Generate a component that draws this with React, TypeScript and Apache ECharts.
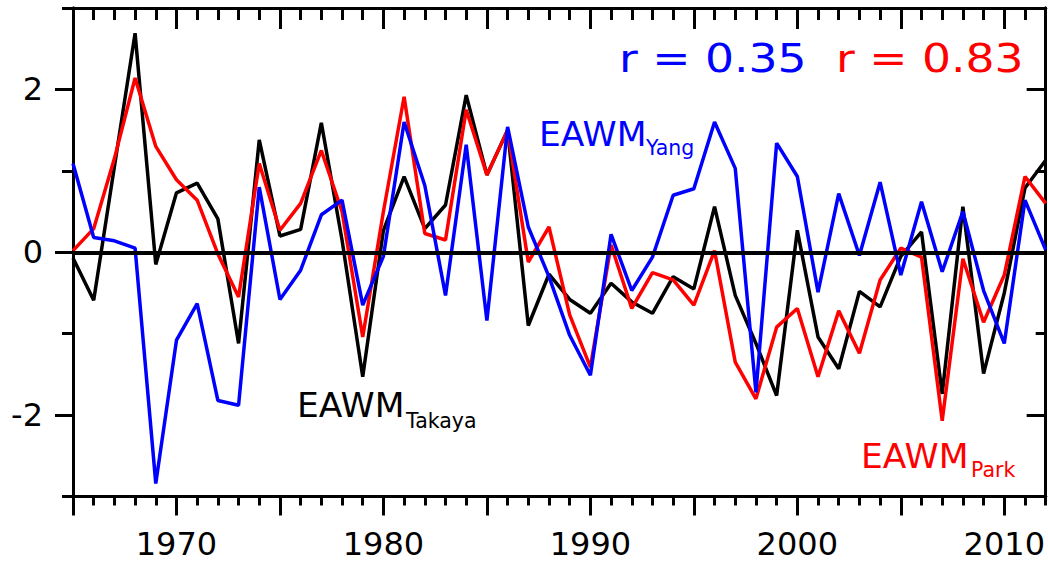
import React, { useEffect, useRef } from "react";
import * as echarts from "echarts";

const years = [
  1965, 1966, 1967, 1968, 1969, 1970, 1971, 1972, 1973, 1974, 1975, 1976,
  1977, 1978, 1979, 1980, 1981, 1982, 1983, 1984, 1985, 1986, 1987, 1988,
  1989, 1990, 1991, 1992, 1993, 1994, 1995, 1996, 1997, 1998, 1999, 2000,
  2001, 2002, 2003, 2004, 2005, 2006, 2007, 2008, 2009, 2010, 2011, 2012,
];

const takaya = [
  -0.07, -0.59, 1.05, 2.69, -0.15, 0.73, 0.85, 0.41, -1.12, 1.38, 0.2, 0.28,
  1.59, 0.15, -1.53, 0.27, 0.93, 0.29, 0.58, 1.93, 0.95, 1.5, -0.9, -0.27,
  -0.58, -0.75, -0.38, -0.61, -0.75, -0.3, -0.45, 0.56, -0.53, -1.12, -1.76, 0.27,
  -1.04, -1.43, -0.48, -0.67, -0.05, 0.25, -1.74, 0.56, -1.49, -0.5, 0.79, 1.13,
];

const park = [
  0.02, 0.29, 1.15, 2.14, 1.3, 0.89, 0.64, -0.02, -0.55, 1.09, 0.27, 0.6,
  1.25, 0.5, -1.04, 0.5, 1.91, 0.23, 0.15, 1.75, 0.95, 1.5, -0.12, 0.31,
  -0.77, -1.41, 0.09, -0.69, -0.25, -0.34, -0.65, 0.02, -1.35, -1.8, -0.92, -0.69,
  -1.53, -0.72, -1.24, -0.34, 0.05, -0.06, -2.07, -0.08, -0.86, -0.28, 0.93, 0.6,
];

const yang = [
  1.09, 0.18, 0.14, 0.05, -2.84, -1.08, -0.63, -1.82, -1.88, 0.8, -0.58, -0.22,
  0.46, 0.64, -0.65, -0.05, 1.6, 0.82, -0.53, 1.32, -0.84, 1.54, 0.31, -0.3,
  -1.02, -1.51, 0.22, -0.47, -0.06, 0.7, 0.78, 1.6, 1.03, -1.72, 1.34, 0.93,
  -0.49, 0.72, -0.04, 0.86, -0.28, 0.62, -0.24, 0.5, -0.47, -1.12, 0.64, 0.03,
];

const majorYearTicks = [1965, 1970, 1975, 1980, 1985, 1990, 1995, 2000, 2005, 2010];
const yearLabels = [1970, 1980, 1990, 2000, 2010];
const yMajorTicks = [-2, 0, 2];
const yLabels = [-2, 0, 2];

const FONT = '"DejaVu Sans", Verdana, sans-serif';
const BLACK = "#000000";
const BLUE = "#0000ff";
const RED = "#ff0000";

export default function App() {
  const ref = useRef<HTMLDivElement>(null);

  useEffect(() => {
    if (!ref.current) return;
    const chart = echarts.init(ref.current, undefined, { renderer: "svg" });

    const line = { show: true, onZero: false, lineStyle: { color: BLACK, width: 3 } };
    const tickStyle = { color: BLACK, width: 3 };

    const xBase = {
      type: "value" as const,
      min: 1965,
      max: 2012,
      interval: 1,
      splitLine: { show: false },
      axisLine: line,
    };
    const yBase = {
      type: "value" as const,
      min: -3,
      max: 3,
      interval: 1,
      splitLine: { show: false },
      axisLine: line,
    };

    const mk = (vals: number[]) => years.map((y, i) => [y, vals[i]]);

    const label = (x: number, y: number, text: string, fill: string, size: number, sx = 1) => ({
      type: "text",
      x,
      y,
      scaleX: sx,
      style: { text, fill, fontSize: size, fontFamily: FONT, align: "left", verticalAlign: "middle" },
    });

    chart.setOption({
      animation: false,
      grid: { left: 73, right: 2, top: 8, bottom: 66.5, containLabel: false },
      xAxis: [
        {
          ...xBase,
          position: "bottom",
          axisTick: { show: true, inside: false, length: 9, lineStyle: tickStyle },
          axisLabel: { show: false },
        },
        {
          ...xBase,
          position: "bottom",
          axisTick: { show: true, inside: false, length: 19, customValues: majorYearTicks, lineStyle: tickStyle },
          axisLabel: {
            show: true,
            customValues: yearLabels,
            formatter: (v: number) => String(v),
            fontSize: 32,
            fontFamily: FONT,
            color: BLACK,
            margin: 31,
          },
        },
        {
          ...xBase,
          position: "top",
          axisTick: { show: true, inside: true, length: 12, lineStyle: tickStyle },
          axisLabel: { show: false },
        },
        {
          ...xBase,
          position: "top",
          axisTick: { show: true, inside: true, length: 21, customValues: majorYearTicks, lineStyle: tickStyle },
          axisLabel: { show: false },
        },
      ],
      yAxis: [
        {
          ...yBase,
          position: "left",
          axisTick: { show: true, inside: false, length: 11, lineStyle: tickStyle },
          axisLabel: { show: false },
        },
        {
          ...yBase,
          position: "left",
          axisTick: { show: true, inside: false, length: 18, customValues: yMajorTicks, lineStyle: tickStyle },
          axisLabel: {
            show: true,
            customValues: yLabels,
            formatter: (v: number) => String(v),
            fontSize: 32,
            fontFamily: FONT,
            color: BLACK,
            margin: 30,
          },
        },
        {
          ...yBase,
          position: "right",
          axisTick: { show: true, inside: true, length: 10, lineStyle: tickStyle },
          axisLabel: { show: false },
        },
        {
          ...yBase,
          position: "right",
          axisTick: { show: true, inside: true, length: 19, customValues: yMajorTicks, lineStyle: tickStyle },
          axisLabel: { show: false },
        },
      ],
      series: [
        {
          name: "EAWM Takaya",
          type: "line",
          xAxisIndex: 0,
          yAxisIndex: 0,
          data: mk(takaya),
          symbol: "none",
          lineStyle: { color: BLACK, width: 3.5 },
          z: 2,
        },
        {
          name: "EAWM Park",
          type: "line",
          xAxisIndex: 0,
          yAxisIndex: 0,
          data: mk(park),
          symbol: "none",
          lineStyle: { color: RED, width: 3.5 },
          z: 3,
        },
        {
          name: "EAWM Yang",
          type: "line",
          xAxisIndex: 0,
          yAxisIndex: 0,
          data: mk(yang),
          symbol: "none",
          lineStyle: { color: BLUE, width: 3.5 },
          z: 4,
          markLine: {
            silent: true,
            symbol: "none",
            label: { show: false },
            lineStyle: { color: BLACK, width: 4, type: "solid" },
            data: [{ yAxis: 0 }],
            z: 10,
          },
        },
      ],
      graphic: [
        label(619, 59, "r = 0.35", BLUE, 39, 1.17),
        label(836, 59, "r = 0.83", RED, 39, 1.17),
        label(539, 133.5, "EAWM", BLUE, 34.5),
        label(646, 148, "Yang", BLUE, 20.5),
        label(297, 405, "EAWM", BLACK, 34.5),
        label(406, 421, "Takaya", BLACK, 20.5),
        label(861, 455.5, "EAWM", RED, 34.5),
        label(971, 469.5, "Park", RED, 20.5),
      ],
    });

    return () => chart.dispose();
  }, []);

  return (
    <div
      ref={ref}
      style={{ position: "absolute", left: 0, top: 0, width: 1048, height: 563, background: "#ffffff" }}
    />
  );
}
